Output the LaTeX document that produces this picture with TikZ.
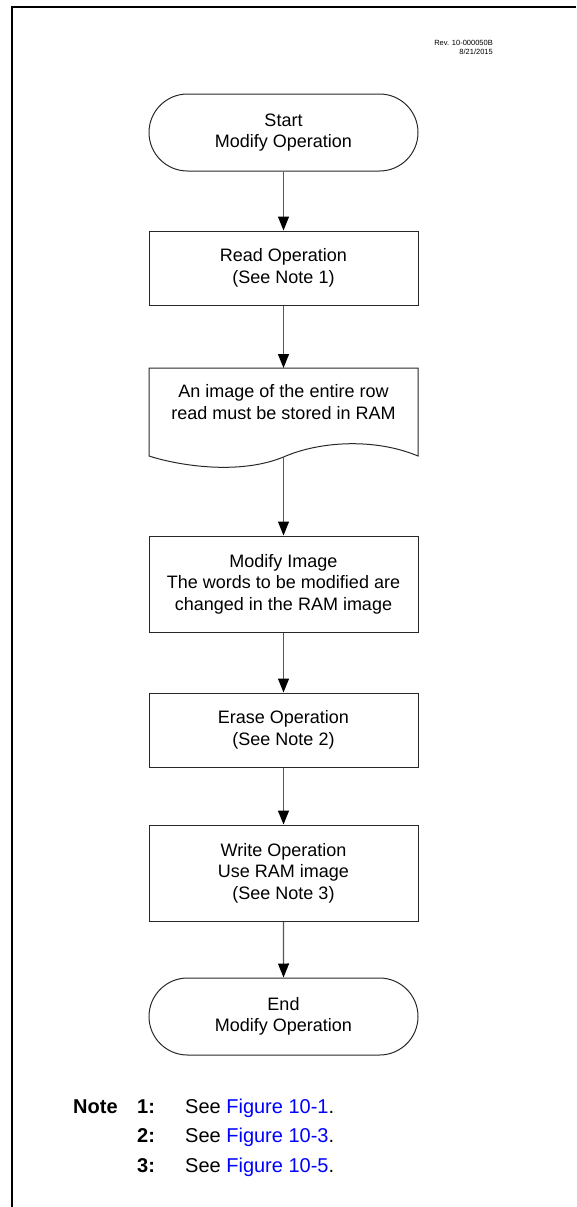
\documentclass[tikz,border=0pt]{standalone}
\usepackage{fontspec}
\setmainfont{Liberation Sans}
\usetikzlibrary{shapes.misc,arrows.meta}
\definecolor{linkblue}{RGB}{0,0,255}
\definecolor{edgegray}{RGB}{40,40,40}
\definecolor{shaftgray}{RGB}{85,85,85}
\begin{document}
\begin{tikzpicture}[x=1pt,y=-1pt,
  boxtext/.style={font=\fontsize{18}{21.5}\selectfont, align=center, text=black},
  procbox/.style={draw=edgegray, line width=1pt, rectangle, minimum width=269pt, inner sep=0pt, boxtext},
  termbox/.style={draw=edgegray, line width=1pt, rounded rectangle, minimum width=269pt, minimum height=77pt, inner sep=0pt, boxtext},
  flow/.style={draw=shaftgray, line width=1.2pt, -{Triangle[length=14pt,width=11pt,color=black]}},
  notetext/.style={font=\fontsize{20}{24}\selectfont, anchor=base west, inner sep=0pt},
  notenum/.style={font=\fontsize{20}{24}\selectfont\bfseries, anchor=base west, inner sep=0pt},
  docshape/.style={draw=edgegray, line width=1pt}
]
\useasboundingbox (0,0) rectangle (576,1207);
\draw[line width=2.5pt] (576,7) -- (12,7) -- (12,1207);

\node[anchor=east, font=\fontsize{7.5}{9}\selectfont, align=right, inner sep=0pt] (rev) at (493,47.5) {Rev. 10-000050B\\8/21/2015};

\node[termbox] (start) at (283.5,132.5) {Start\\Modify Operation};
\node[procbox, minimum height=74pt] (read) at (283.5,268) {Read Operation\\(See Note 1)};

\draw[docshape] (149,368) -- (418,368) -- (418,456) .. controls (375,438) and (320,441) .. (283.5,457) .. controls (240,475) and (180,466) .. (149,456) -- cycle;
\node[boxtext, inner sep=0pt] (doc) at (283.5,402) {An image of the entire row\\read must be stored in RAM};
\coordinate (doctop) at (283.5,368);
\coordinate (docb) at (283.5,457);

\node[procbox, minimum height=96pt] (modify) at (283.5,584) {Modify Image\\The words to be modified are\\changed in the RAM image};
\node[procbox, minimum height=74pt] (erase) at (283.5,730) {Erase Operation\\(See Note 2)};
\node[procbox, minimum height=96pt] (write) at (283.5,873) {Write Operation\\Use RAM image\\(See Note 3)};
\node[termbox] (end) at (283.5,1016.5) {End\\Modify Operation};

\draw[flow] (start) -- (read);
\draw[flow] (read) -- (doctop);
\draw[flow] (docb) -- (modify);
\draw[flow] (modify) -- (erase);
\draw[flow] (erase) -- (write);
\draw[flow] (write) -- (end);

\node[notenum] (note) at (73,1113) {Note};
\node[notenum] (n1) at (137,1113) {1:};
\node[notenum] (n2) at (137,1142) {2:};
\node[notenum] (n3) at (137,1172) {3:};
\node[notetext] (t1) at (185,1113) {See \textcolor{linkblue}{Figure 10-1}.};
\node[notetext] (t2) at (185,1142) {See \textcolor{linkblue}{Figure 10-3}.};
\node[notetext] (t3) at (185,1172) {See \textcolor{linkblue}{Figure 10-5}.};
\end{tikzpicture}
\end{document}
